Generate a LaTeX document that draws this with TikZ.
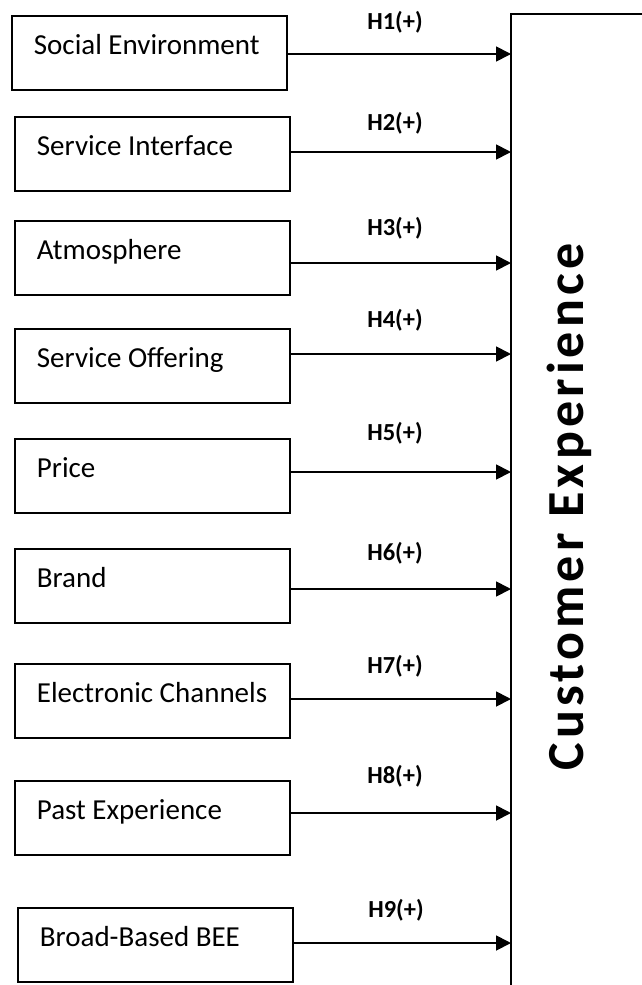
\documentclass[tikz,border=0pt]{standalone}
\usepackage{fontspec}
\setmainfont{Carlito}
\newfontfamily\headfont[LetterSpace=8]{Carlito}
\usetikzlibrary{arrows.meta}

% left-aligned text line inside a construct box
\newcommand\flushtext[1]{\hbox to 231pt{#1\hfil}}

\begin{document}
\begin{tikzpicture}[x=1pt,y=-1pt,
  factor/.style={draw, line width=1.8pt, anchor=north west,
    minimum width=275pt, minimum height=74pt,
    inner xsep=22pt, inner ysep=0pt,
    text height=12pt, text depth=8pt,
    font=\fontsize{29}{34}\selectfont},
  hyp/.style={font=\bfseries\fontsize{24.5}{28}\selectfont, inner sep=0pt},
  link/.style={line width=1.8pt, -{Triangle[length=15pt,width=15pt]}},
]
\useasboundingbox (0,0) rectangle (642,985);
\clip (0,0) rectangle (642,985);

% outcome construct (runs past the right and bottom edges)
\node[draw, line width=1.8pt, anchor=north west, outer sep=0pt, inner sep=0pt,
      minimum width=300pt, minimum height=1100pt] (ce) at (511,14) {};
\node[rotate=90, anchor=base, inner sep=0pt,
      font=\headfont\bfseries\fontsize{52}{60}\selectfont] (title) at (583,507) {Customer Experience};

% antecedent constructs
\node[factor] (s1) at (11,15)  {\flushtext{Social Environment}};
\node[factor] (s2) at (14,116) {\flushtext{Service Interface}};
\node[factor] (s3) at (14,220) {\flushtext{Atmosphere}};
\node[factor] (s4) at (14,328) {\flushtext{Service Offering}};
\node[factor] (s5) at (14,438) {\flushtext{Price}};
\node[factor] (s6) at (14,548) {\flushtext{Brand}};
\node[factor] (s7) at (14,663) {\flushtext{Electronic Channels}};
\node[factor] (s8) at (14,780) {\flushtext{Past Experience}};
\node[factor] (s9) at (17,907) {\flushtext{Broad-Based BEE}};

% hypothesised paths
\draw[link] (s1.east |- 0,54)  -- (ce.west |- 0,54);
\draw[link] (s2.east |- 0,152) -- (ce.west |- 0,152);
\draw[link] (s3.east |- 0,263) -- (ce.west |- 0,263);
\draw[link] (s4.east |- 0,354) -- (ce.west |- 0,354);
\draw[link] (s5.east |- 0,472) -- (ce.west |- 0,472);
\draw[link] (s6.east |- 0,589) -- (ce.west |- 0,589);
\draw[link] (s7.east |- 0,699) -- (ce.west |- 0,699);
\draw[link] (s8.east |- 0,813) -- (ce.west |- 0,813);
\draw[link] (s9.east |- 0,943) -- (ce.west |- 0,943);

% hypothesis labels
\node[hyp] (h1) at (395,22)  {H1(+)};
\node[hyp] (h2) at (395,123) {H2(+)};
\node[hyp] (h3) at (395,228) {H3(+)};
\node[hyp] (h4) at (395,320) {H4(+)};
\node[hyp] (h5) at (395,433) {H5(+)};
\node[hyp] (h6) at (395,553) {H6(+)};
\node[hyp] (h7) at (395,666) {H7(+)};
\node[hyp] (h8) at (395,776) {H8(+)};
\node[hyp] (h9) at (396,910) {H9(+)};
\end{tikzpicture}
\end{document}
